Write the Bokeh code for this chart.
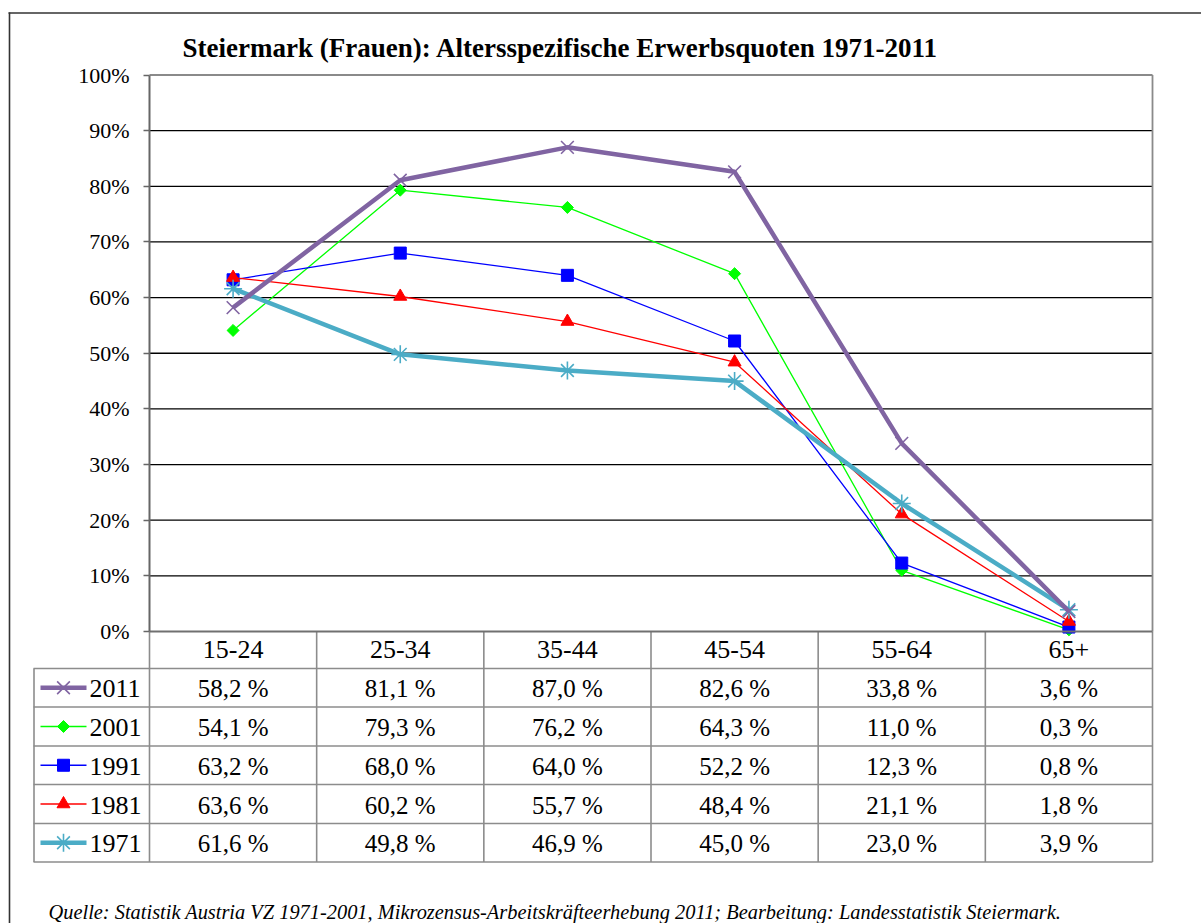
import math
from bokeh.plotting import figure
from bokeh.models import LinearAxis, FixedTicker, Range1d, PrintfTickFormatter
from bokeh.core.properties import value
from bokeh.embed import file_html
from bokeh.resources import INLINE

# ---------------- data ----------------
categories = ["15-24", "25-34", "35-44", "45-54", "55-64", "65+"]
years = ["2011", "2001", "1991", "1981", "1971"]
v2011 = [58.2, 81.1, 87.0, 82.6, 33.8, 3.6]
v2001 = [54.1, 79.3, 76.2, 64.3, 11.0, 0.3]
v1991 = [63.2, 68.0, 64.0, 52.2, 12.3, 0.8]
v1981 = [63.6, 60.2, 55.7, 48.4, 21.1, 1.8]
v1971 = [61.6, 49.8, 46.9, 45.0, 23.0, 3.9]
y_ticks = [0, 10, 20, 30, 40, 50, 60, 70, 80, 90, 100]
title_text = "Steiermark (Frauen): Altersspezifische Erwerbsquoten 1971-2011"
source_text = ("Quelle: Statistik Austria VZ 1971-2001, Mikrozensus-Arbeitskräfteerhebung 2011; "
               "Bearbeitung: Landesstatistik Steiermark.")

series_values = {"2011": v2011, "2001": v2001, "1991": v1991, "1981": v1981, "1971": v1971}

# ---------------- styles ----------------
styles = {
    "2011": dict(color="#8064A2", lw=4.5, marker="x", size=18, angle=0.0, mlw=1.6),
    "2001": dict(color="#00FF00", lw=1.3, marker="square", size=8.5, angle=math.pi / 4, mlw=1),
    "1991": dict(color="#0000FF", lw=1.3, marker="square", size=12, angle=0.0, mlw=1),
    "1981": dict(color="#FF0000", lw=1.3, marker="triangle", size=13, angle=0.0, mlw=1),
    "1971": dict(color="#4BACC6", lw=4.5, marker="asterisk", size=18, angle=0.0, mlw=1.6),
}
draw_order = ["2001", "1991", "1981", "1971", "2011"]

FONT = "Liberation Serif"

# ---------------- geometry (page pixels) ----------------
W, H = 1201, 923
PL, PR, PT, PB = 149, 1152, 74.5, 631
COLW = (PR - PL) / 6.0
YS = (PB - PT) / 100.0


def X(px):
    return (px - PL) / COLW - 0.5


def Y(py):
    return (PB - py) / YS


p = figure(width=W, height=H,
           x_range=Range1d(X(0), X(W)), y_range=Range1d(Y(H), Y(0)),
           x_axis_type=None, y_axis_type=None,
           output_backend="svg", toolbar_location=None,
           min_border=0, min_border_left=0, min_border_right=0,
           min_border_top=0, min_border_bottom=0,
           background_fill_color="white", border_fill_color="white")
p.outline_line_color = None
p.grid.visible = False

# outer frame (left and top edges visible in the reference)
p.line([X(9), X(9)], [Y(12), Y(H)], line_color="#333333", line_width=1.6)
p.line([X(8), X(W)], [Y(12.5), Y(12.5)], line_color="#333333", line_width=1.6)

# gridlines
grid_vals = [t for t in y_ticks if 0 < t < 100]
p.segment(x0=[-0.5] * len(grid_vals), x1=[5.5] * len(grid_vals),
          y0=grid_vals, y1=grid_vals, line_color="#000000", line_width=1.3)
# plot area border (top & right)
p.line([-0.5, 5.5], [100, 100], line_color="#8a8a8a", line_width=1.8)
p.line([5.5, 5.5], [0, 100], line_color="#8a8a8a", line_width=1.8)

# ---------------- table grid ----------------
row_lines = [631, 668, 706.5, 745.5, 784, 823, 861.5]
TABLE_GRAY = "#8c8c8c"
for ry in row_lines[1:]:
    p.line([X(33), 5.5], [Y(ry), Y(ry)], line_color=TABLE_GRAY, line_width=1.6)
for c in range(7):
    p.line([c - 0.5, c - 0.5], [0, Y(row_lines[-1])], line_color=TABLE_GRAY, line_width=1.6)
p.line([X(33.5), X(33.5)], [Y(row_lines[1]), Y(row_lines[-1])], line_color=TABLE_GRAY, line_width=1.6)

# ---------------- axes ----------------
yaxis = LinearAxis(fixed_location=-0.5, bounds=(0, 100),
                   ticker=FixedTicker(ticks=y_ticks),
                   formatter=PrintfTickFormatter(format="%d%%"))
yaxis.axis_line_color = "#666666"
yaxis.axis_line_width = 2
yaxis.major_tick_line_color = "#666666"
yaxis.major_tick_line_width = 1.5
yaxis.major_tick_out = 6
yaxis.major_tick_in = 0
yaxis.minor_tick_line_color = None
yaxis.major_label_standoff = 14
yaxis.major_label_text_font = FONT
yaxis.major_label_text_font_size = "22px"
yaxis.major_label_text_color = "#000000"
p.add_layout(yaxis, "left")

xaxis = LinearAxis(fixed_location=0, bounds=(-0.5, 5.5),
                   ticker=FixedTicker(ticks=list(range(len(categories)))),
                   major_label_overrides={i: c for i, c in enumerate(categories)})
xaxis.axis_line_color = "#707070"
xaxis.axis_line_width = 2.2
xaxis.major_tick_line_color = None
xaxis.minor_tick_line_color = None
xaxis.major_tick_out = 0
xaxis.major_tick_in = 0
xaxis.major_label_standoff = 9
xaxis.major_label_text_font = FONT
xaxis.major_label_text_font_size = "26px"
xaxis.major_label_text_color = "#000000"
p.add_layout(xaxis, "below")

# ---------------- series ----------------
xs = list(range(len(categories)))
for yr in draw_order:
    st = styles[yr]
    vals = series_values[yr]
    p.line(xs, vals, line_color=st["color"], line_width=st["lw"])
    p.scatter(xs, vals, marker=st["marker"], size=st["size"], angle=st["angle"],
              line_color=st["color"], fill_color=st["color"], line_width=st["mlw"])

# ---------------- table body ----------------
row_centers = [(row_lines[i] + row_lines[i + 1]) / 2 for i in range(1, 6)]
tx, ty, tt = [], [], []
for r, yr in enumerate(years):
    for c, v in enumerate(series_values[yr]):
        tx.append(c)
        ty.append(Y(row_centers[r] + 1))
        tt.append(("%.1f" % v).replace(".", ",") + " %")
p.text(x=tx, y=ty, text=tt, text_align="center", text_baseline="middle",
       text_font=value(FONT), text_font_size="25px", text_color="#000000")

# legend keys in the first column
for r, yr in enumerate(years):
    st = styles[yr]
    yy = Y(row_centers[r])
    p.line([X(40), X(86)], [yy, yy], line_color=st["color"], line_width=st["lw"])
    p.scatter([X(63)], [yy], marker=st["marker"], size=st["size"], angle=st["angle"],
              line_color=st["color"], fill_color=st["color"], line_width=st["mlw"])
p.text(x=[X(89)] * len(years), y=[Y(rc + 1) for rc in row_centers], text=years,
       text_align="left", text_baseline="middle",
       text_font=value(FONT), text_font_size="26px", text_color="#000000")

# ---------------- title & source ----------------
p.text(x=[X(560)], y=[Y(47)], text=[title_text], text_align="center", text_baseline="middle",
       text_font=value(FONT), text_font_size="27px", text_font_style="bold", text_color="#000000")
p.text(x=[X(48)], y=[Y(911)], text=[source_text], text_align="left", text_baseline="middle",
       text_font=value(FONT), text_font_size="20.4px", text_font_style="italic", text_color="#000000")

open("out.html", "w").write(file_html(p, INLINE))
